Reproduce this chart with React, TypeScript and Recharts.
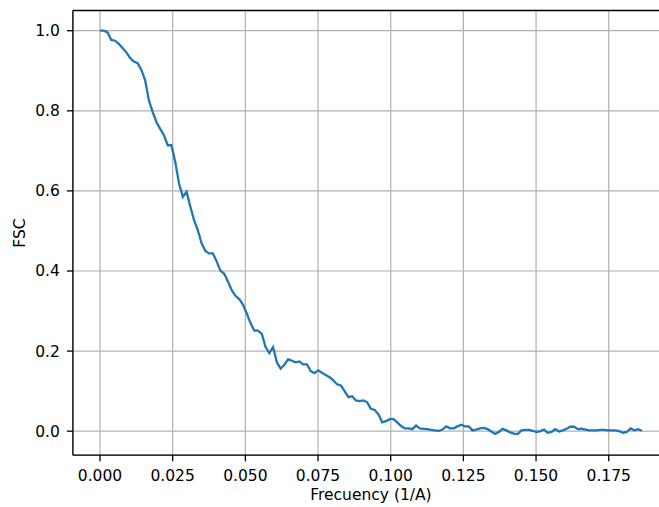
import React from 'react';
import {
  LineChart, Line, XAxis, YAxis, CartesianGrid, ReferenceLine,
} from 'recharts';

// FSC curve, one value per Fourier shell (uniform spacing up to Nyquist)
const FREQ_STEP = 0.0012944;
const fscValues = [
  1.000, 1.000, 0.996, 0.977, 0.975, 0.967, 0.957, 0.946, 0.932, 0.923,
  0.919, 0.902, 0.876, 0.826, 0.797, 0.772, 0.755, 0.739, 0.714, 0.714,
  0.672, 0.619, 0.585, 0.598, 0.561, 0.527, 0.502, 0.469, 0.450, 0.444,
  0.444, 0.424, 0.401, 0.393, 0.374, 0.352, 0.338, 0.330, 0.316, 0.294,
  0.270, 0.251, 0.251, 0.243, 0.210, 0.195, 0.210, 0.172, 0.156, 0.166,
  0.180, 0.176, 0.172, 0.174, 0.167, 0.167, 0.150, 0.145, 0.152, 0.146,
  0.140, 0.135, 0.127, 0.117, 0.114, 0.100, 0.085, 0.087, 0.077, 0.075,
  0.077, 0.072, 0.056, 0.053, 0.042, 0.022, 0.025, 0.030, 0.030, 0.022,
  0.013, 0.007, 0.007, 0.005, 0.014, 0.007, 0.006, 0.005, 0.003, 0.002,
  0.001, 0.004, 0.012, 0.007, 0.007, 0.012, 0.016, 0.012, 0.012, 0.002,
  0.004, 0.007, 0.008, 0.005, -0.001, -0.007, -0.002, 0.006, 0.002, -0.003,
  -0.006, -0.007, 0.002, 0.003, 0.003, 0.001, -0.002, 0.000, 0.004, -0.004,
  -0.002, 0.005, -0.001, 0.002, 0.006, 0.011, 0.011, 0.005, 0.006, 0.004,
  0.002, 0.002, 0.002, 0.003, 0.003, 0.002, 0.002, 0.002, 0.000, -0.004,
  -0.002, 0.007, 0.002, 0.005, 0.001,
];

const xTicks = [0, 0.025, 0.05, 0.075, 0.1, 0.125, 0.15, 0.175];
const yTicks = [0, 0.2, 0.4, 0.6, 0.8, 1.0];

const X_MIN = -0.00932;
const X_MAX = 0.19573;
const Y_MIN = -0.06;
const Y_MAX = 1.0505;

const data = fscValues.map((v, i) => ({ freq: i * FREQ_STEP, fsc: v }));

const FONT = '"DejaVu Sans", sans-serif';
const FS = 15.5;
const tickStyle = { fill: '#000', fontSize: FS, fontFamily: FONT };

const XTitle = (props: any) => {
  const vb = props.viewBox || {};
  return (
    <text x={vb.x + vb.width / 2} y={500} textAnchor="middle"
      fontSize={FS} fontFamily={FONT} fill="#000">
      Frecuency (1/A)
    </text>
  );
};

const YTitle = (props: any) => {
  const cy = 233;
  return (
    <text x={20} y={cy} transform={`rotate(-90 20 ${cy})`} textAnchor="middle"
      dominantBaseline="central" fontSize={FS} fontFamily={FONT} fill="#000">
      FSC
    </text>
  );
};

export default function App() {
  return (
    <div style={{ position: 'fixed', left: 0, top: 0, width: 659, height: 507, overflow: 'hidden', background: '#fff' }}>
      <LineChart width={669} height={507} data={data}
        margin={{ top: 10.5, right: 0, bottom: 0, left: 0 }}>
        <CartesianGrid stroke="#b0b0b0" strokeWidth={1.2} />
        <XAxis dataKey="freq" type="number" domain={[X_MIN, X_MAX]} ticks={xTicks}
          allowDataOverflow height={51.8} interval={0}
          tickFormatter={(v: number) => v.toFixed(3)}
          tick={tickStyle} tickSize={6} tickMargin={8.5}
          axisLine={{ stroke: '#000', strokeWidth: 1.3 }}
          tickLine={{ stroke: '#000', strokeWidth: 1.3 }}
          label={<XTitle />} />
        <YAxis type="number" domain={[Y_MIN, Y_MAX]} ticks={yTicks}
          allowDataOverflow width={72.9} interval={0}
          tickFormatter={(v: number) => v.toFixed(1)}
          tick={tickStyle} tickSize={6} tickMargin={7}
          axisLine={{ stroke: '#000', strokeWidth: 1.3 }}
          tickLine={{ stroke: '#000', strokeWidth: 1.3 }}
          label={<YTitle />} />
        <ReferenceLine y={Y_MAX} stroke="#000" strokeWidth={1.3} />
        <Line type="linear" dataKey="fsc" stroke="#1f77b4" strokeWidth={2.3}
          dot={false} isAnimationActive={false} />
      </LineChart>
    </div>
  );
}
